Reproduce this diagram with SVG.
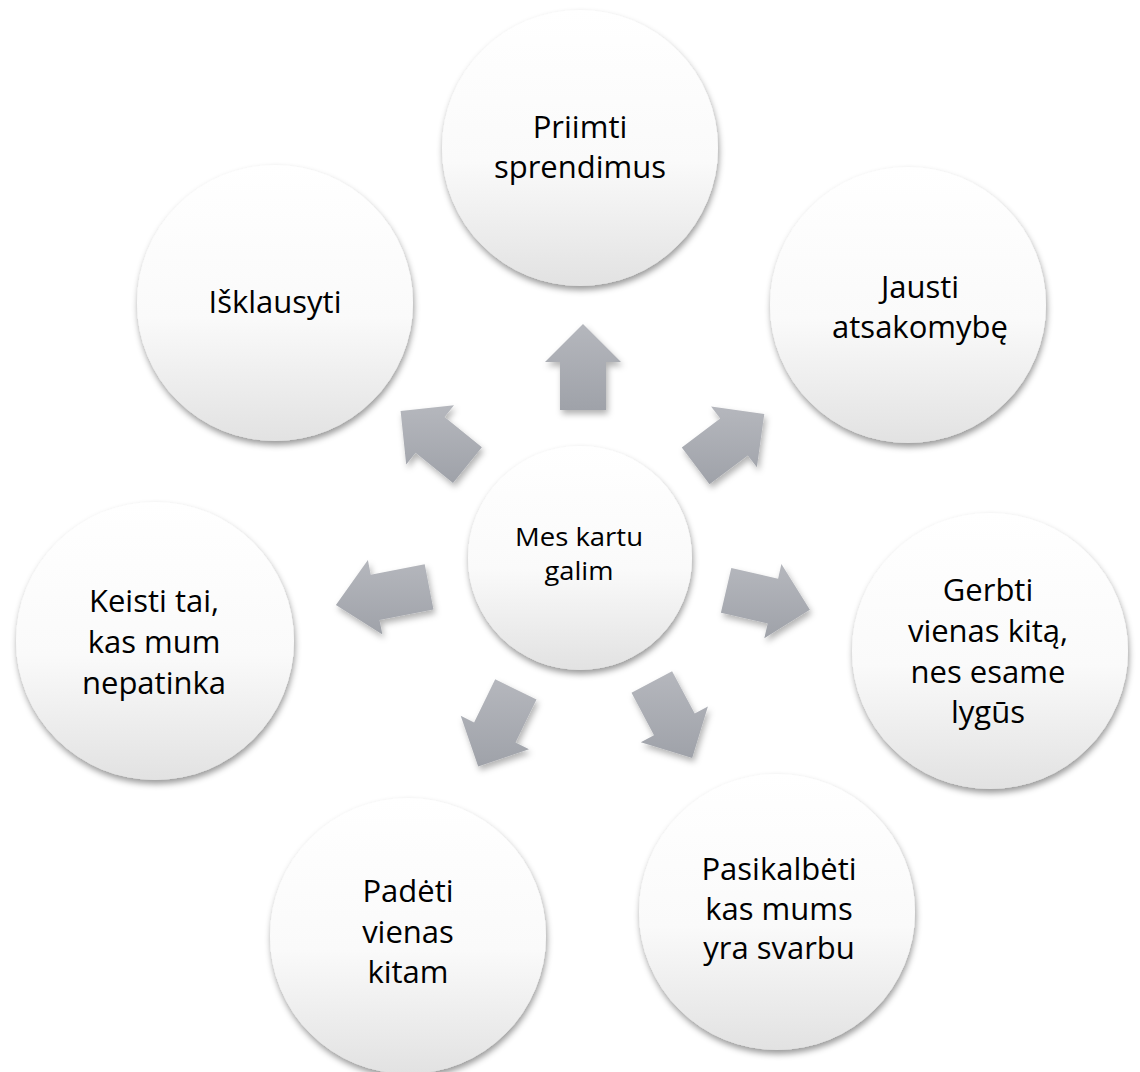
<svg xmlns="http://www.w3.org/2000/svg" width="1140" height="1072" viewBox="0 0 1140 1072">
<defs>
<linearGradient id="cg" x1="0" y1="0" x2="0" y2="1">
<stop offset="0" stop-color="#ffffff"/>
<stop offset="0.55" stop-color="#fafafa"/>
<stop offset="1" stop-color="#e2e2e2"/>
</linearGradient>
<linearGradient id="ag" x1="0" y1="0" x2="0" y2="1">
<stop offset="0" stop-color="#b5b7bd"/>
<stop offset="1" stop-color="#9fa2a9"/>
</linearGradient>
<filter id="cs" x="-20%" y="-20%" width="140%" height="145%">
<feDropShadow dx="1" dy="4" stdDeviation="3" flood-color="#000" flood-opacity="0.4"/>
</filter>
<filter id="as" x="-30%" y="-30%" width="160%" height="160%">
<feDropShadow dx="2" dy="4" stdDeviation="3" flood-color="#000" flood-opacity="0.3"/>
</filter>
</defs>
<style>
.c{fill:url(#cg);filter:url(#cs)}
.a{fill:url(#ag)}
.t{font-family:"Open Sans","Liberation Sans",sans-serif;font-size:31px;fill:#000;text-anchor:middle}
.tc{font-family:"Open Sans","Liberation Sans",sans-serif;font-size:25px;fill:#000;text-anchor:middle}
</style>
<rect width="1140" height="1072" fill="#ffffff"/>
<g id="connectors" filter="url(#as)">
<polygon class="a" points="560,410 560,362 545,362 583,324 621,362 606,362 606,410"/>
<polygon class="a" points="681.8,447.5 720.2,418.6 711.1,406.6 764.3,414.1 756.9,467.3 747.8,455.4 709.5,484.3"/>
<polygon class="a" points="731.3,567.9 778.1,578.7 781.4,564.1 809.9,609.7 764.3,638.2 767.7,623.5 720.9,612.7"/>
<polygon class="a" points="672.1,671.2 694.7,713.6 707.9,706.6 692.2,758 640.8,742.3 654,735.2 631.5,692.8"/>
<polygon class="a" points="536.5,699.4 515.5,742.6 529,749.2 478.2,766.6 460.7,715.8 474.1,722.4 495.2,679.3"/>
<polygon class="a" points="433.5,609.4 379.5,619.9 382.4,634.6 335.9,605 367.9,560 370.7,574.8 424.7,564.3"/>
<polygon class="a" points="453,482.9 415.6,452.7 406.2,464.4 400.6,410.9 454,405.3 444.6,417 481.9,447.2"/>
</g>
<g id="center">
<circle class="c" cx="580" cy="558" r="112"/>
<text class="tc" x="579" y="546" textLength="128" lengthAdjust="spacingAndGlyphs">Mes kartu</text>
<text class="tc" x="579" y="580" textLength="69" lengthAdjust="spacingAndGlyphs">galim</text>
</g>
<g id="n-top">
<circle class="c" cx="580" cy="148" r="138"/>
<text class="t" x="580" y="138">Priimti</text>
<text class="t" x="580" y="178">sprendimus</text>
</g>
<g id="n-topright">
<circle class="c" cx="908" cy="305" r="138"/>
<text class="t" x="920" y="298">Jausti</text>
<text class="t" x="920" y="338">atsakomybę</text>
</g>
<g id="n-right">
<circle class="c" cx="990" cy="651" r="138"/>
<text class="t" x="988" y="601">Gerbti</text>
<text class="t" x="988" y="642">vienas kitą,</text>
<text class="t" x="988" y="683">nes esame</text>
<text class="t" x="988" y="723">lygūs</text>
</g>
<g id="n-bottomright">
<circle class="c" cx="777" cy="912" r="138"/>
<text class="t" x="779" y="880">Pasikalbėti</text>
<text class="t" x="779" y="920">kas mums</text>
<text class="t" x="779" y="959">yra svarbu</text>
</g>
<g id="n-bottomleft">
<circle class="c" cx="408" cy="936" r="138"/>
<text class="t" x="408" y="902">Padėti</text>
<text class="t" x="408" y="943">vienas</text>
<text class="t" x="408" y="983">kitam</text>
</g>
<g id="n-left">
<circle class="c" cx="155" cy="641" r="139"/>
<text class="t" x="154" y="612">Keisti tai,</text>
<text class="t" x="154" y="653">kas mum</text>
<text class="t" x="154" y="694">nepatinka</text>
</g>
<g id="n-topleft">
<circle class="c" cx="275" cy="303" r="138"/>
<text class="t" x="275" y="313">Išklausyti</text>
</g>
</svg>
